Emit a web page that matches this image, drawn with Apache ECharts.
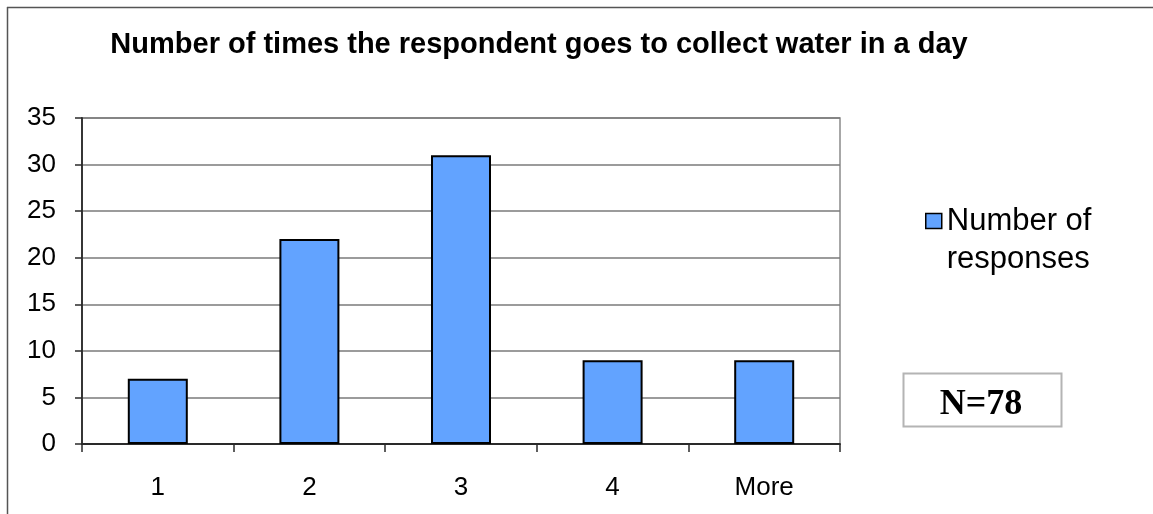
<!DOCTYPE html>
<html>
<head>
<meta charset="utf-8">
<script src="https://cdn.jsdelivr.net/npm/echarts@6/dist/echarts.min.js"></script>
<style>
  html, body { margin: 0; padding: 0; background: #ffffff; }
  #chart { width: 1153px; height: 514px; }
</style>
</head>
<body>
<div id="chart"></div>
<script>
// Trips per day to fetch water
const categories = ['1', '2', '3', '4', 'More'];
const responses = [7, 22, 31, 9, 9];
const seriesName = 'Number of responses';
const titleText = 'Number of times the respondent goes to collect water in a day';
const yMin = 0, yMax = 35, yStep = 5;

const total = responses.reduce((a, b) => a + b, 0);

const chart = echarts.init(document.getElementById('chart'), null, { renderer: 'canvas' });

chart.setOption({
  backgroundColor: '#ffffff',
  animation: false,
  title: {
    text: titleText,
    left: 539,
    textAlign: 'center',
    top: 30,
    padding: 0,
    textStyle: {
      fontFamily: 'Liberation Sans, Arial, sans-serif',
      fontSize: 29,
      fontWeight: 'bold',
      color: '#000000'
    }
  },
  legend: {
    data: [seriesName],
    orient: 'vertical',
    left: 925,
    top: 164,
    padding: 0,
    icon: 'rect',
    itemWidth: 16,
    itemHeight: 15,
    itemGap: 0,
    selectedMode: false,
    // empty first line keeps the swatch level with "Number of"
    formatter: () => '\nNumber of\nresponses',
    itemStyle: { borderColor: '#000000', borderWidth: 1.5 },
    textStyle: {
      fontFamily: 'Liberation Sans, Arial, sans-serif',
      fontSize: 31,
      lineHeight: 38,
      color: '#000000'
    }
  },
  grid: {
    left: 82,
    right: 313,
    top: 118,
    bottom: 70,
    show: true,
    borderColor: '#8a8a8a',
    borderWidth: 1.5,
    backgroundColor: '#ffffff'
  },
  xAxis: {
    type: 'category',
    data: categories,
    axisLine: { show: true, lineStyle: { color: '#2a2a2a', width: 1.8 } },
    axisTick: { show: true, length: 8, lineStyle: { color: '#2a2a2a', width: 1.5 } },
    axisLabel: {
      margin: 31,
      fontFamily: 'Liberation Sans, Arial, sans-serif',
      fontSize: 26,
      color: '#000000'
    },
    splitLine: { show: false }
  },
  yAxis: {
    type: 'value',
    min: yMin,
    max: yMax,
    interval: yStep,
    axisLine: { show: true, lineStyle: { color: '#2a2a2a', width: 1.8 } },
    axisTick: { show: true, length: 7, lineStyle: { color: '#2a2a2a', width: 1.5 } },
    axisLabel: {
      margin: 26,
      fontFamily: 'Liberation Sans, Arial, sans-serif',
      fontSize: 26,
      color: '#000000'
    },
    splitLine: { show: true, lineStyle: { color: '#7a7a7a', width: 1.5 } }
  },
  series: [{
    name: seriesName,
    type: 'bar',
    data: responses,
    barWidth: 60,
    itemStyle: {
      color: '#62a3ff',
      borderColor: '#000000',
      borderWidth: 2
    }
  }],
  graphic: [
    // frame lines along the top and left edges
    { type: 'line', shape: { x1: 7, y1: 7.5, x2: 1153, y2: 7.5 }, style: { stroke: '#555555', lineWidth: 1.5 } },
    { type: 'line', shape: { x1: 7.5, y1: 7, x2: 7.5, y2: 514 }, style: { stroke: '#555555', lineWidth: 1.5 } },
    // sample size box
    {
      type: 'rect',
      shape: { x: 903.5, y: 373.5, width: 158, height: 53 },
      style: { fill: '#ffffff', stroke: '#b4b4b4', lineWidth: 2 }
    },
    {
      type: 'text',
      x: 981,
      y: 405,
      style: {
        text: 'N=' + total,
        fontFamily: 'Liberation Serif, Times New Roman, serif',
        fontSize: 36,
        fontWeight: 'bold',
        fill: '#000000',
        align: 'center',
        verticalAlign: 'middle'
      }
    }
  ]
});
</script>
</body>
</html>
